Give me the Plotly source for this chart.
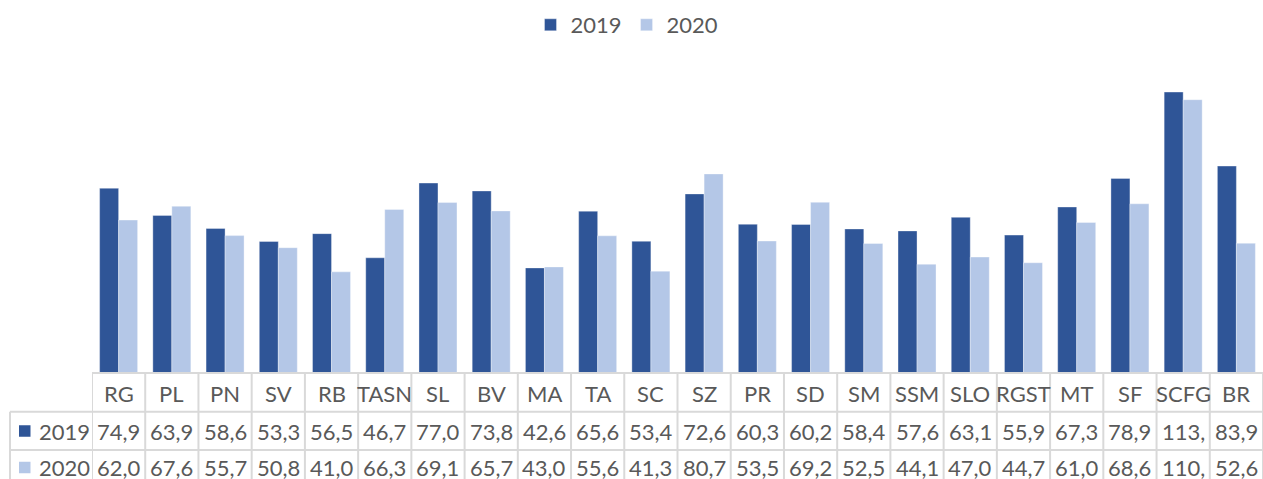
import plotly.graph_objects as go

categories = ["RG", "PL", "PN", "SV", "RB", "TASN", "SL", "BV", "MA", "TA", "SC",
              "SZ", "PR", "SD", "SM", "SSM", "SLO", "RGST", "MT", "SF", "SCFG", "BR"]
values_2019 = [74.9, 63.9, 58.6, 53.3, 56.5, 46.7, 77.0, 73.8, 42.6, 65.6, 53.4,
               72.6, 60.3, 60.2, 58.4, 57.6, 63.1, 55.9, 67.3, 78.9, 113.9, 83.9]
values_2020 = [62.0, 67.6, 55.7, 50.8, 41.0, 66.3, 69.1, 65.7, 43.0, 55.6, 41.3,
               80.7, 53.5, 69.2, 52.5, 44.1, 47.0, 44.7, 61.0, 68.6, 110.8, 52.6]
series_names = ["2019", "2020"]
colors = ["#2F5597", "#B4C7E7"]

W, H = 1263, 479
L, R, T, B = 92, 0, 77, 106
plot_w = W - L - R
plot_h = H - T - B

def px_x(p):
    return (p - L) / plot_w

def px_y(p):
    return (H - B - p) / plot_h

text_color = "#595959"
grid_color = "#D9D9D9"
font_family = "Lato, 'Open Sans', sans-serif"
fs = 22

fig = go.Figure()
for name, vals, col in zip(series_names, [values_2019, values_2020], colors):
    fig.add_trace(go.Bar(
        x=categories, y=vals, name=name,
        marker=dict(color=col, line=dict(color="rgba(255,255,255,0.35)", width=1)),
        hoverinfo="x+y+name",
    ))

shapes = []
annotations = []
n = len(categories)
y_top = 0
y_r1 = px_y(411.7)
y_r2 = px_y(450)
y_bot = px_y(492)
x_left = px_x(10)

shapes.append(dict(type="line", xref="paper", yref="paper", x0=0, x1=1, y0=y_top, y1=y_top,
                   line=dict(color=grid_color, width=2)))
for yy in (y_r1, y_r2):
    shapes.append(dict(type="line", xref="paper", yref="paper", x0=x_left, x1=1, y0=yy, y1=yy,
                       line=dict(color=grid_color, width=2)))
for i in range(n + 1):
    shapes.append(dict(type="line", xref="x", yref="paper", x0=i - 0.5, x1=i - 0.5,
                       y0=y_top, y1=y_bot, line=dict(color=grid_color, width=2)))
shapes.append(dict(type="line", xref="paper", yref="paper", x0=x_left, x1=x_left,
                   y0=y_r1, y1=y_bot, line=dict(color=grid_color, width=2)))

def fmt(v):
    return f"{v:.1f}".replace(".", ",")[:4]

row_centers = [px_y(393), px_y(431), px_y(467.5)]
for i, c in enumerate(categories):
    annotations.append(dict(x=c, y=row_centers[0], xref="x", yref="paper", text=c,
                            yanchor="middle", showarrow=False,
                            font=dict(size=fs, color=text_color, family=font_family)))
    for r, vals in enumerate([values_2019, values_2020]):
        annotations.append(dict(x=c, y=row_centers[r + 1], xref="x", yref="paper", text=fmt(vals[i]),
                                yanchor="middle", showarrow=False,
                                font=dict(size=fs, color=text_color, family=font_family)))

key_centers = [431, 467.5]
for r, (name, col) in enumerate(zip(series_names, colors)):
    yc = key_centers[r]
    shapes.append(dict(type="rect", xref="paper", yref="paper", x0=px_x(19), x1=px_x(30.5),
                       y0=px_y(yc - 5.75), y1=px_y(yc + 5.75), fillcolor=col, line=dict(width=0)))
    annotations.append(dict(x=px_x(37), y=px_y(yc), xref="paper", yref="paper", text=name,
                            xanchor="left", yanchor="middle", showarrow=False,
                            font=dict(size=fs, color=text_color, family=font_family)))

fig.update_layout(
    width=W, height=H,
    margin=dict(l=L, r=R, t=T, b=B, pad=0, autoexpand=False),
    paper_bgcolor="white", plot_bgcolor="white",
    barmode="group", bargap=0.286, bargroupgap=0,
    showlegend=True,
    legend=dict(orientation="h", x=px_x(627), xanchor="center",
                y=px_y(25), yanchor="middle",
                font=dict(size=fs, color=text_color, family=font_family), itemwidth=30),
    xaxis=dict(showticklabels=False, showgrid=False, zeroline=False, showline=False,
               ticks="", range=[-0.5, n - 0.5], fixedrange=True),
    yaxis=dict(range=[0, 120], visible=False, fixedrange=True),
    shapes=shapes, annotations=annotations,
)

fig.write_html("out.html", config={"displayModeBar": False},
               post_script="document.body.style.margin='0';document.body.style.overflow='hidden';")
